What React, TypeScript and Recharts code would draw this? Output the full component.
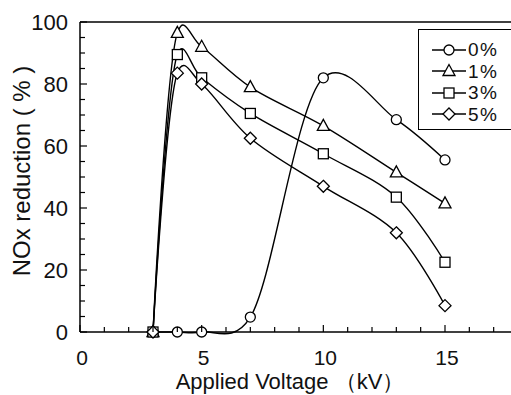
import { LineChart, Line, XAxis, YAxis, ReferenceLine, Label } from "recharts";

// applied voltage (kV) and NOx reduction (%) per additive level
const voltage = [3, 4, 5, 7, 10, 13, 15];
const nox0 = [0, 0, 0, 4.8, 82, 68.5, 55.5];
const nox1 = [0, 96.5, 92, 79, 66.5, 51.5, 41.5];
const nox3 = [0, 89.5, 82, 70.5, 57.5, 43.5, 22.5];
const nox5 = [0, 83.5, 80, 62.5, 47, 32, 8.5];

const seriesNames = ["0%", "1%", "3%", "5%"];
const seriesKeys = ["s0", "s1", "s3", "s5"];
const seriesShapes = ["circle", "triangle", "square", "diamond"];

const xTicks = [0, 1, 2, 3, 4, 5, 6, 7, 8, 9, 10, 11, 12, 13, 14, 15, 16, 17, 18];
const xLabelTicks = [0, 5, 10, 15];
const yTicks = [0, 5, 10, 15, 20, 25, 30, 35, 40, 45, 50, 55, 60, 65, 70, 75, 80, 85, 90, 95, 100];
const yLabelTicks = [0, 20, 40, 60, 80, 100];

const data = voltage.map((v, i) => ({
  v,
  s0: nox0[i],
  s1: nox1[i],
  s3: nox3[i],
  s5: nox5[i],
}));

const FONT = '"Liberation Sans", Arial, sans-serif';
const TICK_MARGIN = 6;
const ALPHA = 0.2;

// catmull-rom spline (alpha param), like the smoothed lines of the plot
const splineCurve = (context: any) => {
  let pts: number[][] = [];
  const pw = (a: number[], b: number[]) => Math.pow(Math.hypot(b[0] - a[0], b[1] - a[1]), ALPHA);
  return {
    areaStart() {},
    areaEnd() {},
    lineStart() {
      pts = [];
    },
    point(x: number, y: number) {
      pts.push([x, y]);
    },
    lineEnd() {
      const n = pts.length;
      if (!n) return;
      context.moveTo(pts[0][0], pts[0][1]);
      for (let i = 0; i < n - 1; i++) {
        const p0 = pts[Math.max(i - 1, 0)];
        const p1 = pts[i];
        const p2 = pts[i + 1];
        const p3 = pts[Math.min(i + 2, n - 1)];
        const l01 = i > 0 ? pw(p0, p1) : 0;
        const l12 = pw(p1, p2);
        const l23 = i + 2 < n ? pw(p2, p3) : 0;
        let c1 = p1;
        let c2 = p2;
        if (l01 > 1e-6) {
          const a = 2 * l01 * l01 + 3 * l01 * l12 + l12 * l12;
          const m = 3 * l01 * (l01 + l12);
          c1 = [0, 1].map((k) => (p1[k] * a - p0[k] * l12 * l12 + p2[k] * l01 * l01) / m);
        }
        if (l23 > 1e-6) {
          const b = 2 * l23 * l23 + 3 * l23 * l12 + l12 * l12;
          const m = 3 * l23 * (l23 + l12);
          c2 = [0, 1].map((k) => (p2[k] * b + p1[k] * l23 * l23 - p3[k] * l12 * l12) / m);
        }
        context.bezierCurveTo(c1[0], c1[1], c2[0], c2[1], p2[0], p2[1]);
      }
    },
  };
};

const Marker = ({ cx, cy, shape }: { cx: number; cy: number; shape: string }) => {
  const st = { fill: "#fff", stroke: "#000", strokeWidth: 1.3 };
  if (shape === "circle") return <circle cx={cx} cy={cy} r={5} {...st} />;
  if (shape === "triangle")
    return <polygon points={`${cx},${cy - 6.5} ${cx - 6},${cy + 4.5} ${cx + 6},${cy + 4.5}`} {...st} />;
  if (shape === "square") return <rect x={cx - 5} y={cy - 5} width={10} height={10} {...st} />;
  return <polygon points={`${cx},${cy - 6} ${cx + 6},${cy} ${cx},${cy + 6} ${cx - 6},${cy}`} {...st} />;
};

const YTick = (props: any) => {
  const { x, y, payload } = props;
  const axisX = x + TICK_MARGIN;
  const major = yLabelTicks.includes(payload.value);
  return (
    <g>
      <line x1={axisX} x2={axisX + (major ? 7 : 5)} y1={y} y2={y} stroke="#000" strokeWidth={1.2} />
      {major && (
        <text x={axisX - 12} y={y} dy="0.36em" textAnchor="end" fontSize={22} fontFamily={FONT} fill="#111">
          {payload.value}
        </text>
      )}
    </g>
  );
};

const XTick = (props: any) => {
  const { x, y, payload } = props;
  const axisY = y - TICK_MARGIN;
  const major = xLabelTicks.includes(payload.value);
  return (
    <g>
      <line x1={x} x2={x} y1={axisY} y2={axisY - (major ? 7 : 5)} stroke="#000" strokeWidth={1.2} />
      {major && (
        <text x={x + 2} y={axisY + 33} textAnchor="middle" fontSize={21} fontFamily={FONT} fill="#111">
          {payload.value}
        </text>
      )}
    </g>
  );
};

// legend box, its right side runs off the picture like in the scan
const LegendBox = () => (
  <div
    style={{
      position: "absolute",
      left: 418,
      top: 29,
      width: 120,
      borderTop: "1.5px solid #000",
      borderLeft: "1.5px solid #000",
      borderBottom: "1.5px solid #000",
      background: "#fff",
      padding: "9px 0 4px 13px",
      fontFamily: FONT,
      fontSize: 19,
      letterSpacing: 1.5,
      color: "#111",
    }}
  >
    {seriesNames.map((n, i) => (
      <div key={n} style={{ display: "flex", alignItems: "center", height: 21.5, whiteSpace: "nowrap" }}>
        <svg width={34} height={16} style={{ marginRight: 2 }}>
          <line x1={0} x2={34} y1={8} y2={8} stroke="#000" strokeWidth={1.3} />
          <Marker cx={17} cy={8} shape={seriesShapes[i]} />
        </svg>
        <span style={{ lineHeight: "21px" }}>{n}</span>
      </div>
    ))}
  </div>
);

export default function App() {
  return (
    <div
      style={{
        position: "absolute",
        left: 0,
        top: 0,
        width: 511,
        height: 395,
        overflow: "hidden",
        background: "#fff",
      }}
    >
      <LineChart width={518} height={395} data={data} margin={{ top: 22, right: 0, bottom: 0, left: 0 }}>
        <XAxis
          dataKey="v"
          type="number"
          domain={[0, 18]}
          ticks={xTicks}
          interval={0}
          height={63}
          tickSize={0}
          tickMargin={TICK_MARGIN}
          tickLine={false}
          axisLine={{ stroke: "#000", strokeWidth: 1.5 }}
          tick={<XTick />}
        >
          <Label
            content={({ viewBox }: any) => (
              <text
                x={viewBox.x + viewBox.width / 2 - 9}
                y={viewBox.y + 57}
                textAnchor="middle"
                fontSize={22}
                fontFamily={FONT}
                fill="#111"
              >
                Applied Voltage （kV）
              </text>
            )}
          />
        </XAxis>
        <YAxis
          type="number"
          domain={[0, 100]}
          ticks={yTicks}
          interval={0}
          width={80}
          tickSize={0}
          tickMargin={TICK_MARGIN}
          tickLine={false}
          axisLine={{ stroke: "#000", strokeWidth: 1.5 }}
          tick={<YTick />}
        >
          <Label
            content={({ viewBox }: any) => {
              const cx = viewBox.x + 21;
              const cy = viewBox.y + viewBox.height / 2 - 6;
              return (
                <text
                  x={cx}
                  y={cy}
                  transform={`rotate(-90 ${cx} ${cy})`}
                  textAnchor="middle"
                  dominantBaseline="central"
                  fontSize={24}
                  fontFamily={FONT}
                  fill="#111"
                >
                  NOx reduction ( % )
                </text>
              );
            }}
          />
        </YAxis>
        <ReferenceLine y={100} stroke="#000" strokeWidth={1.5} />
        {seriesKeys.map((k, i) => (
          <Line
            key={k}
            dataKey={k}
            name={seriesNames[i]}
            type={splineCurve as any}
            stroke="#000"
            strokeWidth={1.4}
            isAnimationActive={false}
            dot={(p: any) => <Marker key={`${k}-${p.index}`} cx={p.cx} cy={p.cy} shape={seriesShapes[i]} />}
            activeDot={false}
          />
        ))}
      </LineChart>
      <LegendBox />
    </div>
  );
}
